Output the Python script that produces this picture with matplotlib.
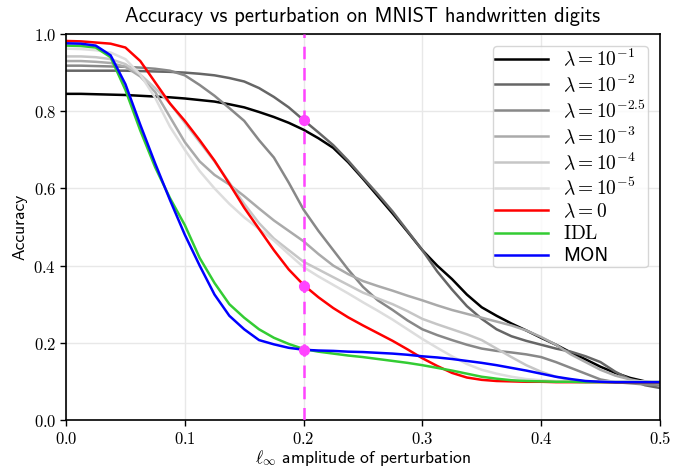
import matplotlib
matplotlib.use("Agg")
import matplotlib.pyplot as plt
from matplotlib.ticker import FuncFormatter
import numpy as np

plt.rcParams["mathtext.fontset"] = "cm"
plt.rcParams["axes.formatter.use_mathtext"] = True

# perturbation amplitude, every 0.0125
eps = [0.0, 0.0125, 0.025, 0.0375, 0.05, 0.0625, 0.075, 0.0875, 0.1, 0.1125,
       0.125, 0.1375, 0.15, 0.1625, 0.175, 0.1875, 0.2, 0.2125, 0.225, 0.2375,
       0.25, 0.2625, 0.275, 0.2875, 0.3, 0.3125, 0.325, 0.3375, 0.35, 0.3625,
       0.375, 0.3875, 0.4, 0.4125, 0.425, 0.4375, 0.45, 0.4625, 0.475, 0.4875, 0.5]

acc_1e1 = [.845, .845, .844, .843, .842, .840, .838, .836, .833, .829,
           .825, .818, .810, .798, .785, .770, .752, .730, .705, .668,
           .625, .580, .535, .488, .440, .400, .365, .325, .292, .270,
           .250, .232, .213, .195, .175, .157, .138, .122, .109, .100, .095]
acc_1e2 = [.905, .905, .905, .905, .905, .904, .903, .902, .900, .897,
           .893, .886, .877, .860, .837, .810, .777, .745, .712, .672,
           .628, .585, .540, .490, .440, .385, .338, .295, .262, .235,
           .217, .205, .195, .185, .177, .165, .150, .125, .105, .090, .083]
acc_1e25 = [.918, .918, .917, .916, .915, .913, .910, .905, .893, .868,
            .840, .808, .775, .725, .680, .615, .545, .490, .440, .390,
            .345, .310, .285, .258, .235, .220, .207, .195, .185, .179,
            .175, .170, .163, .150, .135, .120, .105, .098, .095, .092, .090]
acc_1e3 = [.930, .930, .928, .925, .915, .890, .850, .785, .720, .670,
           .635, .610, .580, .548, .517, .490, .463, .430, .400, .378,
           .360, .347, .335, .322, .310, .297, .285, .275, .265, .255,
           .245, .232, .215, .195, .170, .150, .130, .115, .105, .098, .095]
acc_1e4 = [.942, .942, .940, .935, .922, .895, .860, .820, .770, .720,
           .670, .615, .560, .510, .470, .440, .410, .390, .370, .350,
           .330, .315, .300, .282, .262, .248, .235, .222, .207, .185,
           .163, .142, .125, .112, .103, .100, .100, .099, .099, .098, .098]
acc_1e5 = [.962, .961, .958, .952, .935, .895, .835, .760, .700, .645,
           .600, .560, .525, .495, .465, .430, .396, .372, .350, .328,
           .305, .283, .260, .235, .210, .187, .165, .145, .130, .120,
           .112, .106, .103, .101, .100, .100, .100, .100, .100, .100, .100]
acc_0 = [.982, .981, .978, .975, .965, .930, .875, .820, .775, .725,
         .672, .612, .550, .495, .440, .390, .350, .318, .290, .266,
         .245, .225, .205, .183, .160, .140, .122, .110, .104, .101,
         .100, .099, .099, .098, .098, .098, .098, .097, .097, .097, .097]
acc_idl = [.970, .969, .965, .940, .855, .750, .655, .575, .505, .420,
           .355, .300, .265, .235, .213, .197, .184, .177, .172, .167,
           .163, .158, .153, .148, .142, .135, .128, .120, .112, .107,
           .103, .101, .100, .099, .099, .098, .098, .098, .098, .098, .098]
acc_mon = [.976, .975, .970, .945, .870, .765, .665, .570, .480, .400,
           .325, .270, .235, .207, .196, .187, .182, .180, .179, .177,
           .176, .174, .172, .169, .165, .162, .158, .153, .148, .142,
           .135, .128, .120, .112, .106, .101, .099, .098, .098, .098, .098]

series = [
    (acc_1e1, r"$\lambda=10^{-1}$", "black"),
    (acc_1e2, r"$\lambda=10^{-2}$", "#666666"),
    (acc_1e25, r"$\lambda=10^{-2.5}$", "#888888"),
    (acc_1e3, r"$\lambda=10^{-3}$", "#aaaaaa"),
    (acc_1e4, r"$\lambda=10^{-4}$", "#c6c6c6"),
    (acc_1e5, r"$\lambda=10^{-5}$", "#dddddd"),
    (acc_0, r"$\lambda=0$", "red"),
    (acc_idl, r"$\mathrm{IDL}$", "#33cc33"),
    (acc_mon, "MON", "blue"),
]

eps_mark = 0.2
mark_vals = [0.777, 0.348, 0.181]

fig = plt.figure(figsize=(6.74, 4.68), dpi=100)
ax = fig.add_axes([0.098, 0.1026, 0.881, 0.8247])

for vals, lab, col in series:
    ax.plot(eps, vals, color=col, lw=1.8, label=lab)

ax.axvline(eps_mark, color="#ff44ff", lw=1.8, ls=(0, (5, 3.5)), zorder=5)
ax.plot([eps_mark] * len(mark_vals), mark_vals, "o", color="#ff44ff", ms=7, zorder=6)

ax.set_xlim(0, 0.5)
ax.set_ylim(0, 1)
ax.set_xticks(np.arange(0, 0.51, 0.1))
ax.set_yticks(np.arange(0, 1.01, 0.2))
fmt = FuncFormatter(lambda v, _: f"${v:.1f}$")
ax.xaxis.set_major_formatter(fmt)
ax.yaxis.set_major_formatter(fmt)
ax.tick_params(labelsize=12, length=4, width=1, color="black", pad=3)
ax.grid(True, color="#e8e8e8", lw=1)
ax.set_axisbelow(True)
for s in ax.spines.values():
    s.set_linewidth(1.2)

ax.set_title("Accuracy vs perturbation on MNIST handwritten digits",
             family="cmss10", fontsize=14.8, pad=9)
ax.set_xlabel(r"$\ell_\infty$ amplitude of perturbation", family="cmss10",
              fontsize=12.7, labelpad=0)
ax.set_ylabel("Accuracy", family="cmss10", fontsize=12.5)

leg = ax.legend(loc="upper right", prop={"family": "cmss10", "size": 14},
                labelspacing=0.21, borderpad=0.1, handlelength=2.7,
                borderaxespad=0.6)

fig.savefig("out.png", dpi=100)
